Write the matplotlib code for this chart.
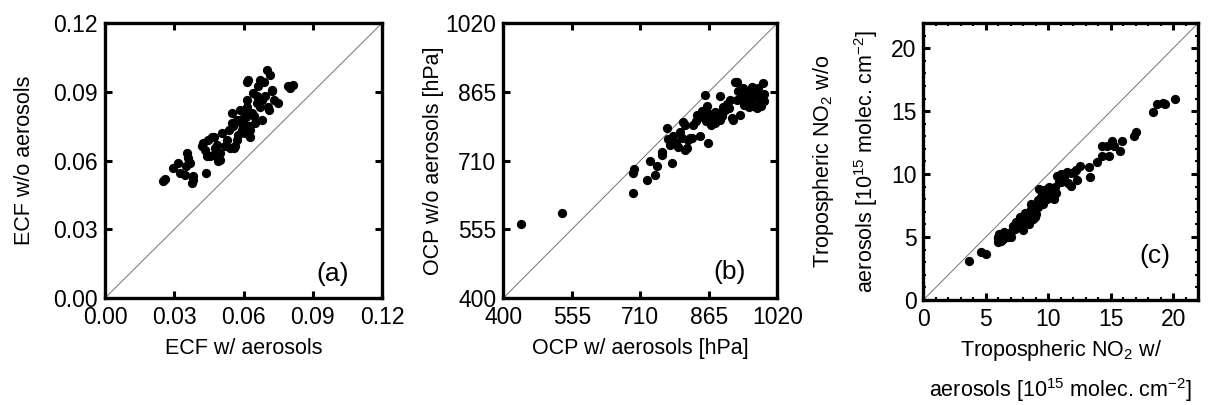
import matplotlib
matplotlib.use('Agg')
import matplotlib.pyplot as plt
from matplotlib.ticker import MultipleLocator, FixedLocator

# ECF with / without aerosols (panel a)
ecf_with = [0.0250, 0.0260, 0.0296, 0.0318, 0.0325, 0.0347, 0.0351, 0.0354, 0.0361, 0.0369,
            0.0376, 0.0380, 0.0383, 0.0419, 0.0426, 0.0433, 0.0438, 0.0441, 0.0447, 0.0455,
            0.0462, 0.0469, 0.0470, 0.0477, 0.0484, 0.0488, 0.0498, 0.0499, 0.0506, 0.0521,
            0.0527, 0.0535, 0.0542, 0.0549, 0.0549, 0.0556, 0.0557, 0.0564, 0.0571, 0.0571,
            0.0578, 0.0586, 0.0585, 0.0593, 0.0599, 0.0600, 0.0607, 0.0614, 0.0615, 0.0621,
            0.0622, 0.0628, 0.0629, 0.0636, 0.0643, 0.0644, 0.0651, 0.0657, 0.0658, 0.0664,
            0.0671, 0.0672, 0.0679, 0.0680, 0.0687, 0.0693, 0.0700, 0.0707, 0.0709, 0.0715,
            0.0722, 0.0723, 0.0730, 0.0751, 0.0794, 0.0802, 0.0816, 0.0615, 0.0592, 0.0610]
ecf_without = [0.0509, 0.0520, 0.0567, 0.0589, 0.0545, 0.0538, 0.0575, 0.0633, 0.0610, 0.0589,
               0.0502, 0.0531, 0.0516, 0.0662, 0.0676, 0.0647, 0.0545, 0.0618, 0.0690, 0.0618,
               0.0705, 0.0625, 0.0705, 0.0655, 0.0669, 0.0596, 0.0604, 0.0633, 0.0720, 0.0662,
               0.0691, 0.0735, 0.0655, 0.0807, 0.0764, 0.0749, 0.0655, 0.0662, 0.0691, 0.0778,
               0.0713, 0.0778, 0.0822, 0.0735, 0.0764, 0.0807, 0.0720, 0.0865, 0.0836, 0.0953,
               0.0749, 0.0735, 0.0705, 0.0807, 0.0895, 0.0793, 0.0764, 0.0851, 0.0880, 0.0924,
               0.0953, 0.0836, 0.0778, 0.0865, 0.0945, 0.0880, 0.0996, 0.0836, 0.0822, 0.0974,
               0.0902, 0.0909, 0.0865, 0.0851, 0.0924, 0.0916, 0.0931, 0.0945, 0.0760, 0.0790]
ecf_ticks = [0.0, 0.03, 0.06, 0.09, 0.12]

# OCP with / without aerosols [hPa] (panel b)
ocp_with = [439, 532, 694, 693, 696, 724, 732, 743, 747, 758, 770, 773, 781, 785, 796, 800,
            807, 811, 815, 819, 822, 826, 838, 845, 849, 856, 860, 864, 868, 875, 883, 890,
            890, 894, 902, 913, 917, 920, 924, 928, 928, 932, 935, 943, 943, 951, 958, 962,
            962, 966, 966, 973, 977, 981, 981, 984, 988, 830, 836, 842, 852, 858, 870, 878,
            885, 898, 905, 910, 935, 940, 950, 955, 970, 975, 990, 955, 945, 870, 880, 790,
            805, 760, 778, 810, 850, 866, 990]
ocp_without = [567, 592, 636, 682, 691, 667, 710, 678, 697, 723, 783, 758, 705, 766, 740, 775,
               798, 734, 738, 757, 761, 761, 813, 765, 821, 858, 832, 749, 798, 806, 802, 855,
               802, 810, 825, 847, 806, 802, 888, 847, 888, 866, 813, 873, 866, 847, 840, 877,
               873, 855, 832, 828, 873, 855, 836, 832, 885, 790, 800, 808, 815, 800, 812, 820,
               818, 830, 838, 828, 850, 860, 865, 855, 870, 850, 860, 830, 835, 790, 795, 750,
               760, 730, 745, 790, 810, 815, 845]
ocp_ticks = [400, 555, 710, 865, 1020]

# Tropospheric NO2 with / without aerosols [1e15 molec cm-2] (panel c)
no2_with = [3.66, 4.64, 4.98, 5.96, 5.96, 6.09, 6.36, 6.49, 7.02, 7.42, 7.55, 7.81, 7.95, 8.21,
            8.48, 8.61, 8.74, 9.01, 9.14, 9.27, 9.40, 9.54, 9.67, 9.93, 10.07, 10.33, 10.46,
            10.73, 10.86, 10.99, 11.26, 11.52, 11.79, 12.05, 12.32, 12.50, 13.25, 13.30, 13.91,
            14.30, 14.30, 14.70, 14.83, 15.10, 15.23, 15.76, 15.89, 16.82, 17.01, 18.41, 18.68,
            19.21, 19.34, 20.13, 6.2, 6.3, 6.6, 6.8, 7.2, 7.3, 7.6, 7.7, 7.9, 8.0, 8.1, 8.3,
            8.5, 8.8, 8.9, 9.2, 9.5, 9.8, 10.0, 10.2, 10.5, 10.6, 11.0, 11.3, 11.8, 12.2, 6.0,
            7.0, 8.6, 9.9, 10.9, 11.6]
no2_without = [3.11, 3.82, 3.69, 5.01, 4.61, 5.27, 4.87, 5.40, 5.01, 6.19, 5.80, 6.32, 5.53, 6.59,
               6.06, 7.25, 6.46, 6.85, 7.91, 8.83, 8.17, 7.64, 8.70, 8.04, 8.96, 8.56, 8.04,
               9.88, 9.35, 10.01, 9.62, 10.14, 9.09, 10.14, 9.49, 10.67, 10.54, 9.80, 10.94,
               12.25, 11.46, 12.25, 11.46, 12.65, 12.25, 11.86, 12.65, 13.04, 13.31, 14.94, 15.55,
               15.68, 15.55, 15.99, 4.7, 5.1, 5.2, 5.0, 5.9, 5.6, 6.1, 6.6, 6.0, 6.4, 6.9, 6.3,
               7.0, 7.1, 6.6, 7.4, 8.3, 8.4, 8.2, 8.8, 9.0, 8.5, 9.4, 10.0, 10.1, 10.3, 4.9,
               5.4, 7.6, 8.8, 9.6, 9.3]
no2_ticks = [0, 5, 10, 15, 20]

plt.rcParams['font.family'] = ['Liberation Sans', 'DejaVu Sans']
plt.rcParams['mathtext.fontset'] = 'custom'
plt.rcParams['mathtext.rm'] = 'Liberation Sans'
plt.rcParams['mathtext.it'] = 'Liberation Sans'

TICK_FS = 16.5
LABEL_FS = 15.5

fig = plt.figure(figsize=(12.14, 4.05), dpi=100)
ax_a = fig.add_axes([0.0865, 0.264, 0.2282, 0.679])
ax_b = fig.add_axes([0.4146, 0.264, 0.2257, 0.679])
ax_c = fig.add_axes([0.7606, 0.2593, 0.2265, 0.684])


def style_axes(ax, lo, hi, ticks, minor=None):
    ax.set_xlim(lo, hi)
    ax.set_ylim(lo, hi)
    ax.plot([lo, hi], [lo, hi], color='0.45', lw=0.7, zorder=1)
    ax.xaxis.set_major_locator(FixedLocator(ticks))
    ax.yaxis.set_major_locator(FixedLocator(ticks))
    if minor:
        ax.xaxis.set_minor_locator(MultipleLocator(minor))
        ax.yaxis.set_minor_locator(MultipleLocator(minor))
    ax.tick_params(which='major', direction='in', top=True, right=True,
                   length=5, width=2.2, labelsize=TICK_FS)
    ax.tick_params(axis='x', which='major', pad=6)
    ax.tick_params(axis='y', which='major', pad=5)
    ax.tick_params(which='minor', direction='in', top=True, right=True,
                   length=2.5, width=1.5)
    for sp in ax.spines.values():
        sp.set_linewidth(2.4)


style_axes(ax_a, 0.0, 0.12, ecf_ticks)
ax_a.scatter(ecf_with, ecf_without, s=32, color='black', zorder=3)
ax_a.xaxis.set_major_formatter(plt.FormatStrFormatter('%.2f'))
ax_a.yaxis.set_major_formatter(plt.FormatStrFormatter('%.2f'))
ax_a.set_xlabel('ECF w/ aerosols', fontsize=LABEL_FS, labelpad=6)
ax_a.set_ylabel('ECF w/o aerosols', fontsize=LABEL_FS, labelpad=13)
ax_a.text(0.82, 0.087, '(a)', transform=ax_a.transAxes, fontsize=19, ha='center', va='center')

style_axes(ax_b, 400, 1020, ocp_ticks)
ax_b.scatter(ocp_with, ocp_without, s=32, color='black', zorder=3)
ax_b.set_xlabel('OCP w/ aerosols [hPa]', fontsize=LABEL_FS, labelpad=6)
ax_b.set_ylabel('OCP w/o aerosols [hPa]', fontsize=LABEL_FS, labelpad=1)
ax_b.text(0.826, 0.096, '(b)', transform=ax_b.transAxes, fontsize=19, ha='center', va='center')

style_axes(ax_c, 0, 22, no2_ticks, minor=1)
ax_c.scatter(no2_with, no2_without, s=32, color='black', zorder=3)
ax_c.set_xlabel('Tropospheric NO$_2$ w/\naerosols [10$^{15}$ molec. cm$^{\\mathrm{-}2}$]',
                fontsize=LABEL_FS, linespacing=1.6, labelpad=5)
ax_c.set_ylabel('Tropospheric NO$_2$ w/o\naerosols [10$^{15}$ molec. cm$^{\\mathrm{-}2}$]',
                fontsize=LABEL_FS, linespacing=1.75, labelpad=8)
ax_c.text(0.843, 0.159, '(c)', transform=ax_c.transAxes, fontsize=19, ha='center', va='center')

fig.savefig('out.png', dpi=100)
